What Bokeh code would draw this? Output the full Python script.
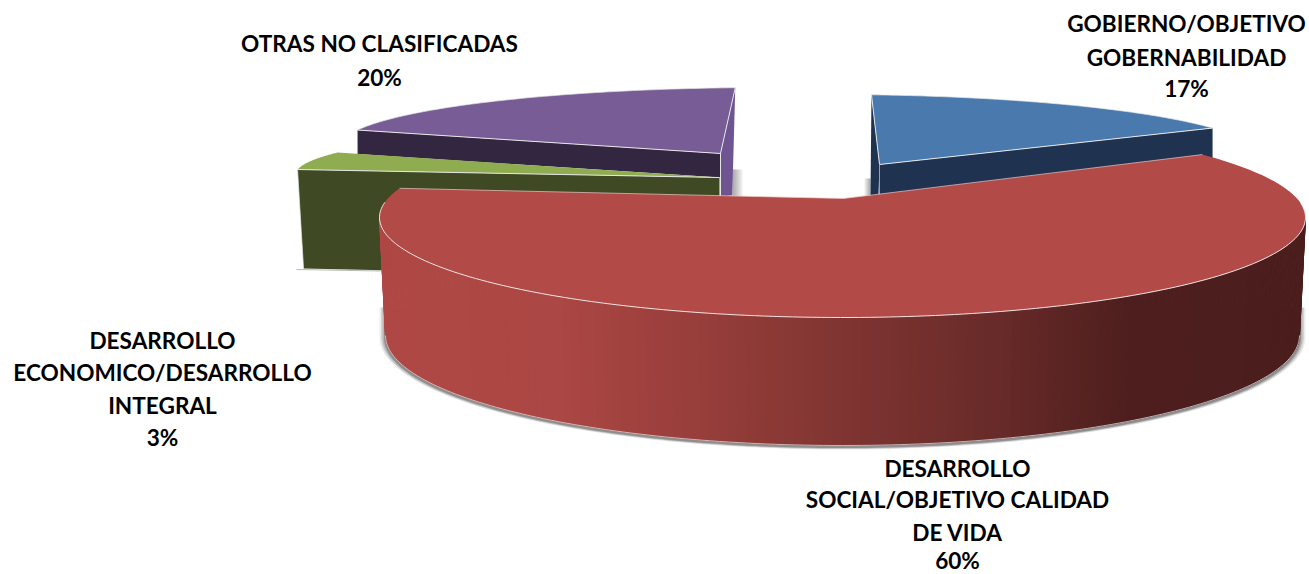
import numpy as np
from bokeh.plotting import figure
from bokeh.embed import file_html
from bokeh.resources import INLINE
from bokeh.core.properties import value

# ---- data ----
CATEGORIES = ["GOBIERNO/OBJETIVO GOBERNABILIDAD",
              "DESARROLLO SOCIAL/OBJETIVO CALIDAD DE VIDA",
              "DESARROLLO ECONOMICO/DESARROLLO INTEGRAL",
              "OTRAS NO CLASIFICADAS"]
SHARES = [17, 60, 3, 20]
LABEL_LINES = [["GOBIERNO/OBJETIVO", "GOBERNABILIDAD"],
               ["DESARROLLO", "SOCIAL/OBJETIVO CALIDAD", "DE VIDA"],
               ["DESARROLLO", "ECONOMICO/DESARROLLO", "INTEGRAL"],
               ["OTRAS NO CLASIFICADAS"]]

# ---- drawing geometry of each slice (perspective of the exploded 3D pie) ----
# rim ellipse centre, radii, screen angle at slice start, screen degrees per percentage point
RIM = [(830, 156, 430, 62, 5.47, 3.366),
       (842, 217, 463, 100, 51.0, 3.933),
       (725, 174, 430, 51, 275.6, 6.63),
       (770, 146, 430, 59, 286.2, 3.455)]
APEX = [(879, 164), (843, 198), (719, 177), (720, 153)]
DEPTH = [30, 0, 99, 24]
TOP = ["#4A79AE", "#B24A47", "#90AC50", "#775C95"]
WALL = ["#1F3350", "#4B1E1D", "#3F4A24", "#332640"]
EDGE = "#E6E6E6"

LABEL_POS = [(1186, [23, 57, 88]), (957, [468, 499, 532, 560]),
             (162, [340, 372, 405, 437]), (379, [43, 77])]

W, H = 1309, 574
p = figure(width=W, height=H, x_range=(0, W), y_range=(H, 0),
           output_backend="svg", toolbar_location=None, min_border=0,
           background_fill_color="white", border_fill_color="white",
           outline_line_color=None)
p.axis.visible = False
p.grid.visible = False


def rim_points(i, pct_from, pct_to, n=80):
    cx, cy, a, b, start, k = RIM[i]
    phi = np.radians(start + np.linspace(pct_from, pct_to, n) * k)
    return cx + a * np.sin(phi), cy - b * np.cos(phi)


def soft(x0, y0, y1, dx, steps=5, alpha=0.07):
    for s in range(steps, 0, -1):
        p.patch([x0, x0 + s * dx, x0 + s * dx, x0], [y0, y0, y1, y1],
                fill_color="#000000", fill_alpha=alpha, line_color=None)


# small soft shadows behind the back slices
soft(732, 169, 196, 2)
soft(870, 178, 196, -1.2)
p.line([296, 380], [269, 270.5], line_color="#8a8a8a", line_width=1, line_alpha=.6)

# ---- blue ----
i = 0
bx, by = rim_points(i, 0, SHARES[0])
ax, ay = APEX[i]
p.patch([bx[0], ax, ax - 1, bx[0] - 1], [by[0], ay, ay + 31, ay + 31], fill_color=WALL[i], line_color=None)
p.patch([ax, bx[-1], bx[-1], ax], [ay, by[-1], by[-1] + DEPTH[i], ay + 31], fill_color=WALL[i], line_color=None)
p.patch(np.r_[ax, bx], np.r_[ay, by], fill_color=TOP[i], line_color=None)
p.line([bx[0], ax, bx[-1]], [by[0], ay, by[-1]], line_color=EDGE, line_width=1)
p.line(bx, by, line_color=EDGE, line_width=.7)
p.line([ax, ax], [ay, ay + 31], line_color="#9aa3ad", line_width=1)

# ---- purple ----
i = 3
ux, uy = rim_points(i, 0, SHARES[3])
ax, ay = APEX[i]
p.patch([ux[-1], ax, ax, ux[-1] - 3], [uy[-1], ay, ay + 43, ay + 42], fill_color="#6E5490", line_color=None)
p.patch([ux[0], ax, ax, ux[0]], [uy[0], ay, ay + DEPTH[i], uy[0] + DEPTH[i]], fill_color=WALL[i], line_color=None)
p.patch(np.r_[ax, ux], np.r_[ay, uy], fill_color=TOP[i], line_color=None)
p.line([ux[0], ax, ux[-1]], [uy[0], ay, uy[-1]], line_color=EDGE, line_width=1)
p.line(ux, uy, line_color=EDGE, line_width=.7)
p.line([ax, ax], [ay, ay + 43], line_color=EDGE, line_width=1)

# ---- green ----
i = 2
gx, gy = rim_points(i, 0, SHARES[2])
ax, ay = APEX[i]
p.patch([gx[0], ax, ax, gx[0] + 6], [gy[0], ay, ay + 100, gy[0] + DEPTH[i]], fill_color=WALL[i], line_color=None)
p.patch(np.r_[ax, gx], np.r_[ay, gy], fill_color=TOP[i], line_color=None)
p.line([gx[0], ax], [gy[0], ay], line_color=EDGE, line_width=1)
p.line([gx[0], gx[0] + 6], [gy[0], gy[0] + DEPTH[i]], line_color=EDGE, line_width=.7)

# ---- red ----
i = 1
cx, cy, a, b, start, k = RIM[i]
BOT = (842, 335, 457, 110)
# soft shadow under the wall
phi = np.radians(np.linspace(90, 270, 160))
for d, al in [(6, .07), (4.5, .10), (3, .14), (1.5, .22)]:
    sx = BOT[0] + (BOT[2] + d) * np.sin(phi)
    sy = BOT[1] + 2 + (BOT[3] + d * .35) * np.cos(-phi) * -1
    p.patch(np.r_[sx[0], sx, sx[-1]], np.r_[sy[0] - 30, sy, sy[-1] - 30],
            fill_color="#000000", fill_alpha=al, line_color=None)
# front wall with its left-to-right light falloff
n = 150
edges = np.radians(np.linspace(270, 90, n + 1))
tx = cx + a * np.sin(edges)
ty = cy - b * np.cos(edges)
lx = BOT[0] + BOT[2] * np.sin(edges)
ly = BOT[1] - BOT[3] * np.cos(edges)
stops_x = [380, 560, 700, 830, 1000, 1130, 1310]
stops_c = np.array([[176, 73, 70], [171, 71, 68], [152, 62, 59], [130, 54, 51],
                    [104, 43, 41], [78, 31, 30], [75, 30, 29]])
xs, ys, cols = [], [], []
for j in range(n):
    xs.append([tx[j], tx[j + 1], lx[j + 1], lx[j]])
    ys.append([ty[j], ty[j + 1], ly[j + 1], ly[j]])
    m = (tx[j] + tx[j + 1]) / 2
    c = [int(np.interp(m, stops_x, stops_c[:, q])) for q in range(3)]
    cols.append("#%02x%02x%02x" % tuple(c))
p.patches(xs, ys, fill_color=cols, line_color=cols, line_width=1)
# wall bottom edge highlight
p.line(lx, ly, line_color="#d8d8d8", line_width=.8)
# top surface
rx, ry = rim_points(i, 0, SHARES[1], 200)
ax, ay = APEX[i]
p.patch(np.r_[ax, rx], np.r_[ay, ry], fill_color=TOP[i], line_color=None)
ang = np.degrees(np.arctan2(rx - cx, cy - ry)) % 360
front = (ang > 88) & (ang < 272)
p.line(rx[front], ry[front], line_color="#F2E4E4", line_width=1.0)
p.line([rx[0], ax, rx[-1]], [ry[0], ay, ry[-1]], line_color="#E8C8C8", line_width=.7)

# ---- labels ----
tx_, ty_, tt_ = [], [], []
for (lx_, lys), lines, v in zip(LABEL_POS, LABEL_LINES, SHARES):
    for y_, s in zip(lys, lines + [f"{v}%"]):
        tx_.append(lx_); ty_.append(y_); tt_.append(s)
p.text(tx_, ty_, text=tt_, text_font=value("Lato"), text_font_style="bold",
       text_font_size="22.6px", text_align="center", text_baseline="middle", text_color="#000000")

open("out.html", "w").write(file_html(p, INLINE))
